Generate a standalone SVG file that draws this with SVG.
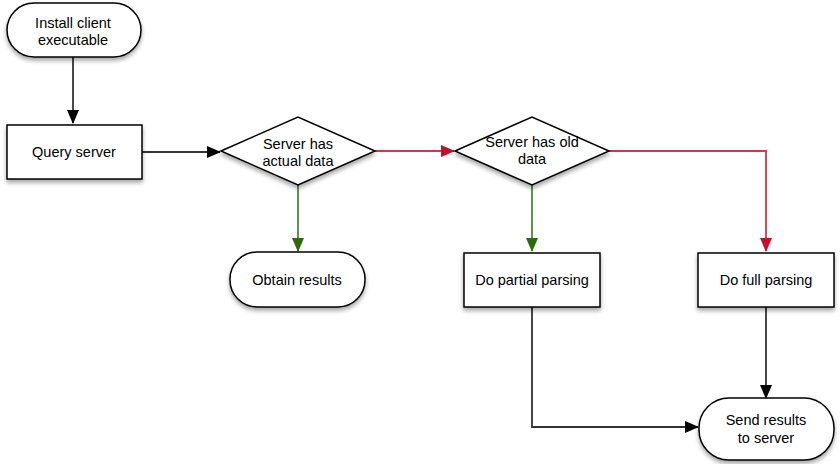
<svg xmlns="http://www.w3.org/2000/svg" width="840" height="464" viewBox="0 0 840 464">
<defs>
<filter id="sh" x="-20%" y="-20%" width="140%" height="160%">
<feDropShadow dx="0" dy="3" stdDeviation="2" flood-color="#000" flood-opacity="0.35"/>
</filter>
<marker id="ak" markerWidth="14" markerHeight="12" refX="13" refY="6" orient="auto" markerUnits="userSpaceOnUse"><path d="M0,0 L14,6 L0,12 z" fill="#000"/></marker>
<marker id="ag" markerWidth="14" markerHeight="12" refX="13" refY="6" orient="auto" markerUnits="userSpaceOnUse"><path d="M0,0 L14,6 L0,12 z" fill="#2a6b0c"/></marker>
<marker id="ar" markerWidth="14" markerHeight="12" refX="13" refY="6" orient="auto" markerUnits="userSpaceOnUse"><path d="M0,0 L14,6 L0,12 z" fill="#c0102a"/></marker>
</defs>
<style>
.n{fill:#fff;stroke:#000;stroke-width:1.5;filter:url(#sh)}
text{font-family:"Liberation Sans",Arial,sans-serif;font-size:14.5px;fill:#000;text-anchor:middle}
.c{fill:none;stroke-width:1.8}
.k{stroke:#333}
.g{stroke:#4e8a2e}
.r{stroke:#cc3a4e}
</style>
<rect width="840" height="464" fill="#fff"/>
<g id="connectors">
<path class="c k" d="M73,57 V123" marker-end="url(#ak)"/>
<path class="c k" d="M142,152 H220" marker-end="url(#ak)"/>
<path class="c r" d="M375,151 H454" marker-end="url(#ar)"/>
<path class="c g" d="M298,185 V251" marker-end="url(#ag)"/>
<path class="c g" d="M532,185 V251" marker-end="url(#ag)"/>
<path class="c r" d="M609,151 H766 V251" marker-end="url(#ar)"/>
<path class="c k" d="M766,307 V398" marker-end="url(#ak)"/>
<path class="c k" d="M532,307 V427 H698" marker-end="url(#ak)"/>
</g>
<g id="install"><rect class="n" x="7" y="3" width="134" height="54" rx="27"/><text x="73" y="28">Install client</text><text x="73" y="45">executable</text></g>
<g id="query"><rect class="n" x="7" y="125" width="135" height="54"/><text x="74" y="157">Query server</text></g>
<g id="actual"><polygon class="n" points="221,151 298,117 375,151 298,185"/><text x="298" y="149">Server has</text><text x="298" y="166">actual data</text></g>
<g id="old"><polygon class="n" points="455,151 532,117 609,151 532,185"/><text x="532" y="147">Server has old</text><text x="532" y="164">data</text></g>
<g id="obtain"><rect class="n" x="230" y="252" width="135" height="55" rx="27"/><text x="297" y="285">Obtain results</text></g>
<g id="partial"><rect class="n" x="464" y="253" width="136" height="54"/><text x="532" y="285">Do partial parsing</text></g>
<g id="full"><rect class="n" x="698" y="253" width="136" height="54"/><text x="766" y="285">Do full parsing</text></g>
<g id="send"><rect class="n" x="699" y="398" width="135" height="62" rx="30"/><text x="766" y="425">Send results</text><text x="766" y="443">to server</text></g>
</svg>
